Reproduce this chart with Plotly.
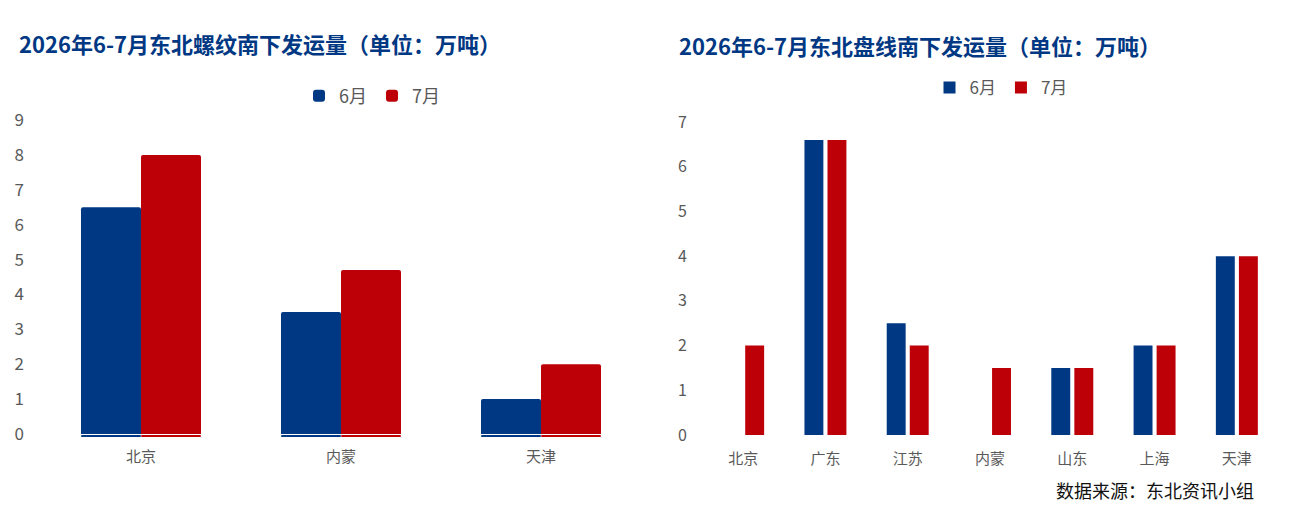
import plotly.graph_objects as go

# 螺纹
rebar_cities = ["北京", "内蒙", "天津"]
rebar_jun = [6.5, 3.5, 1.0]
rebar_jul = [8.0, 4.7, 2.0]

# 盘线
wire_cities = ["北京", "广东", "江苏", "内蒙", "山东", "上海", "天津"]
wire_jun = [0, 6.6, 2.5, 0, 1.5, 2, 4]
wire_jul = [2, 6.6, 2, 1.5, 1.5, 2, 4]

BLUE = "#003883"
RED = "#BD0008"
GRAY = "#595959"
FONT = "Noto Sans CJK SC"

# 页面 body 有 8px 边距，按屏幕像素换算
PAD = 8
W, H = 1301 - 2 * PAD, 510 - 2 * PAD


def fx(px):
    return (px - PAD) / W


def fy(py):
    return (H - (py - PAD)) / H


fig = go.Figure()

# 左图
fig.add_trace(go.Bar(x=rebar_cities, y=rebar_jun, name="6月", marker_color=BLUE,
                     offsetgroup="a", xaxis="x", yaxis="y", legend="legend"))
fig.add_trace(go.Bar(x=rebar_cities, y=rebar_jul, name="7月", marker_color=RED,
                     offsetgroup="b", xaxis="x", yaxis="y", legend="legend"))
# 底部细线（倒影效果）
for col, grp in [(BLUE, "a"), (RED, "b")]:
    fig.add_trace(go.Bar(x=rebar_cities, y=[0.04] * len(rebar_cities), base=-0.085,
                         marker_color=col, offsetgroup=grp, showlegend=False,
                         hoverinfo="skip", xaxis="x", yaxis="y"))

# 右图
fig.add_trace(go.Bar(x=wire_cities, y=wire_jun, name="6月", marker_color=BLUE,
                     width=0.23, offset=-0.255, xaxis="x2", yaxis="y2", legend="legend2"))
fig.add_trace(go.Bar(x=wire_cities, y=wire_jul, name="7月", marker_color=RED,
                     width=0.23, offset=0.025, xaxis="x2", yaxis="y2", legend="legend2"))

fig.update_traces(marker_line_width=0)
fig.update_traces(selector=dict(xaxis="x"), marker_cornerradius=2)

px_unit1 = (434 - 120) / 9
y1_bottom = 434 + 0.12 * px_unit1

fig.update_layout(
    width=W, height=H,
    margin=dict(l=0, r=0, t=0, b=0, autoexpand=False),
    plot_bgcolor="white", paper_bgcolor="white",
    font=dict(family=FONT, color=GRAY),
    barmode="group", bargap=0.4, bargroupgap=0.0,
    xaxis=dict(domain=[fx(41), fx(641)], anchor="y", showline=False, ticks="",
               tickfont=dict(size=15, color=GRAY), ticklabelstandoff=8),
    yaxis=dict(domain=[fy(y1_bottom), fy(120)], anchor="x",
               range=[-0.12, 9], dtick=1, showgrid=False, zeroline=False,
               showline=False, tickfont=dict(size=17, color=GRAY),
               ticklabelstandoff=16),
    xaxis2=dict(domain=[fx(702), fx(1278)], anchor="y2", showline=False, ticks="",
                tickfont=dict(size=15, color=GRAY), ticklabelstandoff=13),
    yaxis2=dict(domain=[fy(435), fy(122)], anchor="x2",
                range=[0, 7], dtick=1, showgrid=False, zeroline=False,
                showline=False, tickfont=dict(size=16, color=GRAY),
                ticklabelstandoff=14),
    legend=dict(orientation="h", x=fx(372), xanchor="center", y=fy(96),
                yanchor="middle", font=dict(size=18, color=GRAY),
                itemwidth=30, traceorder="normal"),
    legend2=dict(orientation="h", x=fx(1001), xanchor="center", y=fy(88),
                 yanchor="middle", font=dict(size=17, color=GRAY),
                 itemwidth=30, traceorder="normal"),
    annotations=[
        dict(text="<b>2026年6-7月东北螺纹南下发运量（单位：万吨）</b>", x=fx(17), y=fy(43),
             xref="paper", yref="paper", xanchor="left", yanchor="middle",
             showarrow=False, font=dict(size=22, color=BLUE, family=FONT)),
        dict(text="<b>2026年6-7月东北盘线南下发运量（单位：万吨）</b>", x=fx(677), y=fy(45),
             xref="paper", yref="paper", xanchor="left", yanchor="middle",
             showarrow=False, font=dict(size=22, color=BLUE, family=FONT)),
        dict(text="数据来源：东北资讯小组", x=fx(1256), y=fy(490),
             xref="paper", yref="paper", xanchor="right", yanchor="middle",
             showarrow=False, font=dict(size=18, color="#111111", family=FONT)),
    ],
)

fig.write_html("out.html")
